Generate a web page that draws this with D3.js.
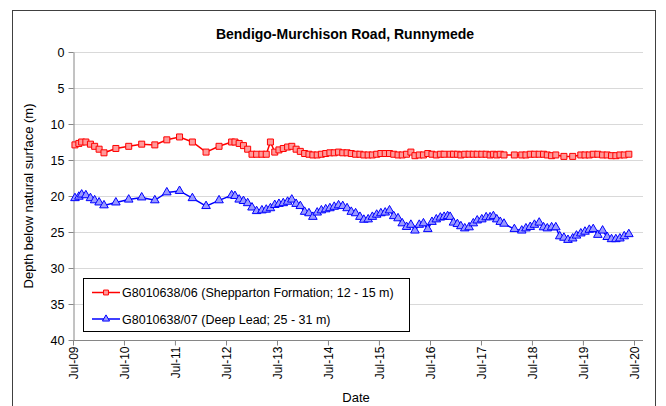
<!DOCTYPE html>
<html>
<head>
<meta charset="utf-8">
<script src="https://cdn.jsdelivr.net/npm/d3@7"></script>
<style>
  html, body { margin: 0; padding: 0; background: #fff; }
  svg { display: block; font-family: "Liberation Sans", Arial, sans-serif; }
</style>
</head>
<body>
<svg id="chart" width="666" height="406"></svg>
<script>
// ---------------- DATA ----------------
const title = "Bendigo-Murchison Road, Runnymede";
const yAxisLabel = "Depth below natural surface (m)";
const xAxisLabel = "Date";
const seriesNames = [
  "G8010638/06 (Shepparton Formation; 12 - 15 m)",
  "G8010638/07 (Deep Lead; 25 - 31 m)"
];
const yTicks = [0, 5, 10, 15, 20, 25, 30, 35, 40];
const xTickLabels = ["Jul-09","Jul-10","Jul-11","Jul-12","Jul-13","Jul-14","Jul-15","Jul-16","Jul-17","Jul-18","Jul-19","Jul-20"];

const dates = [
  "2009-07-15","2009-08-12","2009-09-01","2009-10-01","2009-11-03","2009-12-03","2010-01-04","2010-02-08",
  "2010-05-04","2010-08-04","2010-11-05","2011-02-07","2011-05-04","2011-08-03","2011-11-03","2012-02-09",
  "2012-05-12","2012-08-10","2012-09-03","2012-10-03","2012-11-03","2012-12-03","2013-01-03","2013-02-05",
  "2013-03-15","2013-04-15","2013-05-15","2013-06-15","2013-07-15","2013-08-15","2013-09-15","2013-10-15",
  "2013-11-15","2013-12-15","2014-01-15","2014-02-15","2014-03-15","2014-04-15","2014-05-15","2014-06-15",
  "2014-07-15","2014-08-15","2014-09-15","2014-10-15","2014-11-15","2014-12-15","2015-01-15","2015-02-15",
  "2015-03-15","2015-04-15","2015-05-15","2015-06-15","2015-07-15","2015-08-15","2015-09-15","2015-10-15",
  "2015-11-15","2015-12-15","2016-01-15","2016-02-15","2016-03-15","2016-04-15","2016-05-15","2016-06-15",
  "2016-07-15","2016-08-15",
  "2016-09-13","2016-10-10","2016-11-04","2016-11-22","2016-12-16","2017-01-13","2017-02-07","2017-03-07",
  "2017-04-07","2017-05-07","2017-06-04","2017-07-07","2017-08-07","2017-09-04","2017-09-28","2017-10-22",
  "2017-11-16","2017-12-13","2018-02-25","2018-04-19","2018-05-19","2018-06-19","2018-07-19","2018-08-22",
  "2018-09-22","2018-10-19","2018-11-19","2018-12-19","2019-01-16","2019-02-15","2019-03-16","2019-04-19",
  "2019-05-16","2019-06-16","2019-07-16","2019-08-16","2019-09-13","2019-10-16","2019-11-19","2019-12-22",
  "2020-01-22","2020-02-22","2020-03-22","2020-04-22","2020-05-25"
];

const shepparton = [
  12.9,12.7,12.5,12.5,12.8,13.1,13.5,14.0,
  13.4,13.1,12.8,12.9,12.2,11.8,12.5,13.9,
  13.1,12.5,12.5,12.7,13.0,13.5,14.2,14.2,
  14.2,14.2,12.5,13.9,13.6,13.4,13.2,13.1,
  13.5,13.8,14.1,14.2,14.3,14.3,14.2,14.1,
  14.0,14.0,13.9,14.0,14.0,14.1,14.2,14.2,
  14.3,14.3,14.3,14.2,14.1,14.1,14.1,14.2,
  14.3,14.3,14.2,13.9,14.4,14.3,14.3,14.1,
  14.2,14.3,
  14.2,14.2,null,14.2,14.2,14.2,14.3,14.2,
  14.2,14.2,14.2,14.2,14.2,14.3,14.2,14.3,
  14.2,14.3,14.3,14.3,14.3,14.2,14.2,14.2,
  14.2,14.3,14.4,14.3,null,14.5,null,14.5,
  null,14.3,14.3,14.3,14.2,14.2,14.3,14.3,
  14.4,14.4,14.3,14.3,14.2
];

const deepLead = [
  20.3,20.1,19.8,19.9,20.3,20.6,20.9,21.3,
  20.9,20.5,20.2,20.6,19.5,19.3,20.3,21.4,
  20.6,19.9,20.0,20.5,20.7,21.0,21.6,22.1,
  22.0,21.9,21.7,21.25,21.1,21.0,20.8,20.5,
  21.1,21.4,22.2,22.4,22.9,22.3,22.0,21.85,
  21.7,21.5,21.3,21.4,21.7,22.2,22.4,22.9,
  23.3,23.25,22.9,22.6,22.4,22.3,22.0,22.8,
  23.1,23.8,24.3,24.0,24.8,24.0,23.8,24.6,
  23.6,23.25,
  23.0,22.9,22.8,22.9,23.7,23.9,24.2,24.5,
  24.35,23.8,23.4,23.25,22.96,22.96,22.8,23.25,
  23.6,23.85,24.6,24.8,24.5,24.3,24.0,23.7,
  24.35,24.5,24.35,24.35,25.6,25.8,26.1,25.9,
  25.5,25.2,24.96,24.7,24.6,25.4,24.8,25.7,
  26.0,26.0,25.9,25.6,25.3
];

// ---------------- CHART ----------------
const svg = d3.select("#chart");
const parse = d3.timeParse("%Y-%m-%d");
const dateObjs = dates.map(parse);

const plot = { left: 73, top: 52, right: 643, bottom: 340 };
const x = d3.scaleTime()
  .domain([new Date(2009, 6, 1), new Date(2020, 6, 1)])
  .range([73, 634]);
const y = d3.scaleLinear().domain([0, 40]).range([plot.top, plot.bottom]);

// outer border
svg.append("rect")
  .attr("x", 12.5).attr("y", 10.5).attr("width", 643).attr("height", 420)
  .attr("fill", "none").attr("stroke", "#404040").attr("stroke-width", 1);

// title
svg.append("text")
  .attr("x", 345).attr("y", 39)
  .attr("text-anchor", "middle")
  .attr("font-size", 14).attr("font-weight", "bold").attr("fill", "#000")
  .text(title);

// gridlines
svg.append("g").selectAll("line")
  .data(yTicks.slice(0, -1))
  .join("line")
  .attr("x1", plot.left).attr("x2", plot.right)
  .attr("y1", d => Math.round(y(d)) + 0.5).attr("y2", d => Math.round(y(d)) + 0.5)
  .attr("stroke", "#d9d9d9").attr("stroke-width", 1);

// y axis
const yAxis = d3.axisLeft(y).tickValues(yTicks).tickSize(5).tickPadding(4).tickSizeOuter(0);
const gy = svg.append("g").attr("transform", `translate(${plot.left + 0.5},0)`).call(yAxis);
gy.select(".domain").attr("stroke", "#868686");
gy.selectAll(".tick line").attr("stroke", "#868686");
gy.selectAll(".tick text").attr("font-size", 12.5).attr("fill", "#000")
  .attr("font-family", "Liberation Sans, Arial, sans-serif");

// x axis
const xTickDates = xTickLabels.map(d3.timeParse("%b-%y"));
const xAxis = d3.axisBottom(x).tickValues(xTickDates)
  .tickFormat((d, i) => xTickLabels[i]).tickSize(5).tickSizeOuter(0);
const gx = svg.append("g").attr("transform", `translate(0,${plot.bottom + 0.5})`).call(xAxis);
gx.select(".domain").attr("d", `M${plot.left},0H${plot.right}`).attr("stroke", "#868686");
gx.selectAll(".tick line").attr("stroke", "#868686");
gx.selectAll(".tick text")
  .attr("font-size", 12).attr("fill", "#000")
  .attr("font-family", "Liberation Sans, Arial, sans-serif")
  .attr("text-anchor", "end")
  .attr("dy", "0.35em")
  .attr("transform", "translate(0,6) rotate(-90)")
  .attr("x", 0).attr("y", 0);

// axis labels
svg.append("text")
  .attr("transform", `translate(33,${(plot.top + plot.bottom) / 2}) rotate(-90)`)
  .attr("text-anchor", "middle").attr("font-size", 13).attr("fill", "#000")
  .text(yAxisLabel);
svg.append("text")
  .attr("x", 356).attr("y", 402)
  .attr("text-anchor", "middle").attr("font-size", 13).attr("fill", "#000")
  .text(xAxisLabel);

// series
const series = [
  { values: shepparton, stroke: "#ff0000", fill: "#ff9a9a", shape: d3.symbolSquare },
  { values: deepLead, stroke: "#0000ff", fill: "#9a9aff", shape: d3.symbolTriangle }
];

series.forEach(s => {
  const pts = dateObjs.map((d, i) => ({ d, v: s.values[i] })).filter(p => p.v != null);
  const line = d3.line().x(p => x(p.d)).y(p => y(p.v));
  svg.append("path").datum(pts)
    .attr("d", line).attr("fill", "none")
    .attr("stroke", s.stroke).attr("stroke-width", 1.5);
  svg.append("g").selectAll("path")
    .data(pts).join("path")
    .attr("transform", p => `translate(${x(p.d)},${y(p.v)})`)
    .attr("d", d3.symbol().type(s.shape).size(s.shape === d3.symbolSquare ? 36 : 32))
    .attr("fill", s.fill).attr("stroke", s.stroke).attr("stroke-width", 1);
});

// legend
const lg = svg.append("g");
lg.append("rect")
  .attr("x", 83.5).attr("y", 278.5).attr("width", 326).attr("height", 53)
  .attr("fill", "#fff").attr("stroke", "#000").attr("stroke-width", 1);
series.forEach((s, i) => {
  const ly = 292.5 + i * 26.5;
  lg.append("line").attr("x1", 92).attr("x2", 120).attr("y1", ly).attr("y2", ly)
    .attr("stroke", s.stroke).attr("stroke-width", 1.5);
  lg.append("path").attr("transform", `translate(106,${ly})`)
    .attr("d", d3.symbol().type(s.shape).size(s.shape === d3.symbolSquare ? 24 : 22))
    .attr("fill", s.fill).attr("stroke", s.stroke).attr("stroke-width", 1);
  lg.append("text").attr("x", 122).attr("y", ly + 4.5)
    .attr("font-size", 12.5).attr("fill", "#000")
    .text(seriesNames[i]);
});
</script>
</body>
</html>
